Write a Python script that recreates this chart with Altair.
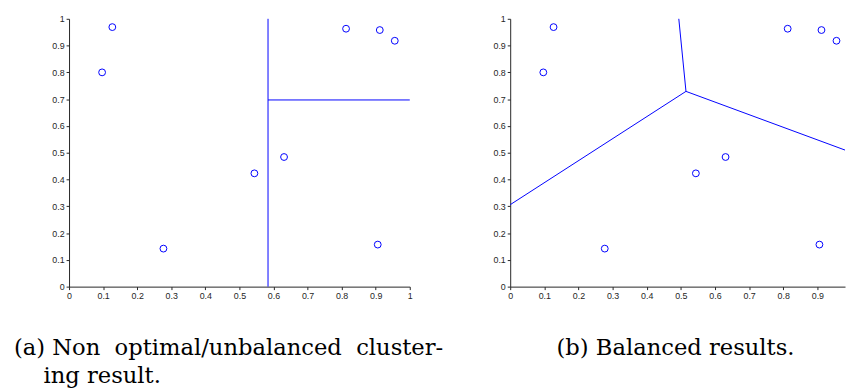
import altair as alt
import pandas as pd

# Data points (same in both panels)
px = [0.097, 0.127, 0.277, 0.544, 0.631, 0.813, 0.912, 0.956, 0.906]
py = [0.800, 0.969, 0.142, 0.423, 0.484, 0.963, 0.958, 0.918, 0.157]

# Boundary segments, panel (a)
a_x1 = [0.584, 0.584]
a_y1 = [0.0, 0.697]
a_x2 = [0.584, 1.0]
a_y2 = [1.0, 0.697]

# Boundary segments, panel (b)
b_x1 = [0.515, 0.515, 0.515]
b_y1 = [0.729, 0.729, 0.729]
b_x2 = [0.0, 0.494, 0.981]
b_y2 = [0.306, 1.0, 0.510]

ticks_y = [0, 0.1, 0.2, 0.3, 0.4, 0.5, 0.6, 0.7, 0.8, 0.9, 1]
ticks_xa = [0, 0.1, 0.2, 0.3, 0.4, 0.5, 0.6, 0.7, 0.8, 0.9, 1]
ticks_xb = [0, 0.1, 0.2, 0.3, 0.4, 0.5, 0.6, 0.7, 0.8, 0.9]

cap_a1 = "(a) Non\u00a0 optimal/unbalanced\u00a0 cluster-"
cap_a2 = "ing result."
cap_b = "(b) Balanced results."

BLUE = "#0000ff"
SERIF = "DejaVu Serif, Liberation Serif, serif"

pts = pd.DataFrame({"x": px, "y": py})
seg_a = pd.DataFrame({"x": a_x1, "y": a_y1, "x2": a_x2, "y2": a_y2})
seg_b = pd.DataFrame({"x": b_x1, "y": b_y1, "x2": b_x2, "y2": b_y2})


def panel(seg, xmax, xticks, width, captions):
    xs = alt.Scale(domain=[0, xmax], nice=False, zero=False)
    ys = alt.Scale(domain=[0, 1], nice=False)
    xa = alt.Axis(values=xticks, format=".1~f", title=None, grid=False,
                  labelOverlap=False, labelFlush=False)
    ya = alt.Axis(values=ticks_y, format=".1~f", title=None, grid=False,
                  labelOverlap=False, labelFlush=False)
    r = alt.Chart(seg).mark_rule(color=BLUE, strokeWidth=1).encode(
        x=alt.X("x:Q", scale=xs, axis=xa),
        y=alt.Y("y:Q", scale=ys, axis=ya),
        x2="x2:Q", y2="y2:Q",
    )
    p = alt.Chart(pts).mark_point(
        shape="circle", filled=False, stroke=BLUE, strokeWidth=1, size=48, opacity=1
    ).encode(
        x=alt.X("x:Q", scale=xs, axis=xa),
        y=alt.Y("y:Q", scale=ys, axis=ya),
    )
    layers = [r, p]
    for txt, dx, dy in captions:
        t = alt.Chart(pd.DataFrame({"t": [txt]})).mark_text(
            font=SERIF, fontSize=23, align="left", baseline="alphabetic", color="#000000"
        ).encode(text="t:N", x=alt.value(dx), y=alt.value(dy))
        layers.append(t)
    return alt.layer(*layers).properties(width=width, height=272)


left = panel(seg_a, 1.0, ticks_xa, 346,
             [(cap_a1, -56, 341), (cap_a2, -26, 370)])
right = panel(seg_b, 0.981, ticks_xb, 340,
              [(cap_b, 47, 341)])

chart = alt.hconcat(left, right, spacing=102, bounds="flush").properties(
    padding={"left": 6, "top": 4, "right": 0, "bottom": 0}
).configure_view(stroke=None).configure_axis(
    domainColor="#262626",
    tickColor="#262626",
    labelColor="#262626",
    labelFont="Liberation Sans, Arial, sans-serif",
    labelFontSize=9,
    tickSize=3,
    labelPadding=2,
    domainWidth=1,
    tickWidth=1,
)

chart.save("out.html", embed_options={"renderer": "svg", "actions": False})
